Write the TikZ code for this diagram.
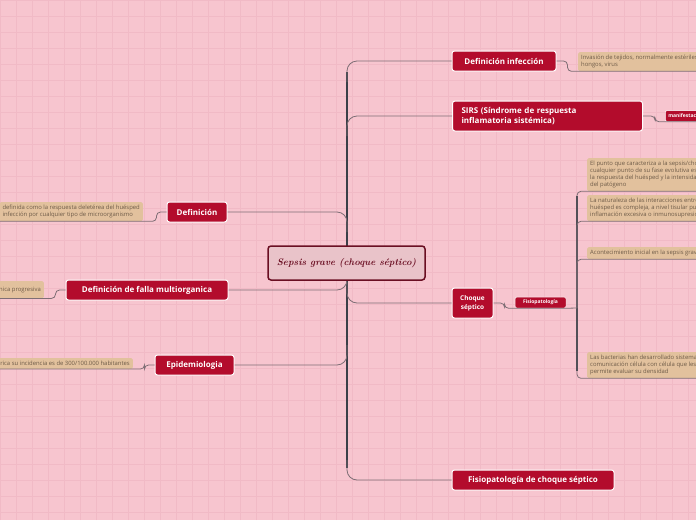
\documentclass[tikz,border=0pt]{standalone}
\usepackage{fontspec}
\setsansfont{Open Sans}
\usetikzlibrary{positioning}
\definecolor{bgpink}{HTML}{F7C5CF}
\definecolor{gridpink}{HTML}{F1BAC6}
\definecolor{crimson}{HTML}{B30C2C}
\definecolor{centrefill}{HTML}{E9C3C9}
\definecolor{maroon}{HTML}{6A0E22}
\definecolor{notetan}{HTML}{E2C19D}
\definecolor{notetext}{HTML}{6E5B48}
\definecolor{branchgray}{HTML}{7E6E75}
\definecolor{trunkgray}{HTML}{3B3F48}
\begin{document}
\begin{tikzpicture}[x=1pt, y=-1pt,
    topic/.style={fill=crimson, draw=white, line width=1pt, rounded corners=2.5pt, text=white,
        font=\sffamily\bfseries\fontsize{8}{9.5}\selectfont, inner xsep=6pt, inner ysep=0pt,
        minimum height=20pt, align=left},
    tag/.style={fill=crimson, draw=white, line width=0.5pt, rounded corners=1.5pt, text=white,
        font=\sffamily\bfseries\fontsize{5}{6}\selectfont, inner xsep=3pt, inner ysep=0pt,
        minimum height=11pt},
    centre/.style={fill=centrefill, draw=maroon, line width=1.5pt, rounded corners=3pt, text=maroon,
        font=\rmfamily\bfseries\itshape\fontsize{9.5}{11}\selectfont,
        minimum width=157pt, minimum height=34pt},
    note/.style={fill=notetan, rounded corners=1.5pt, text=notetext,
        font=\sffamily\fontsize{5.9}{7}\selectfont, align=left, inner sep=3pt},
    branch/.style={branchgray, line width=0.8pt, rounded corners=10pt},
    noteline/.style={branchgray, line width=0.8pt, rounded corners=4pt},
    trunk/.style={trunkgray, line width=2.4pt},
    subtrunk/.style={trunkgray, line width=1.4pt}]
    \useasboundingbox (0,0) rectangle (696,520);
    \fill[bgpink] (0,0) rectangle (696,520);
    \draw[gridpink, line width=0.4pt, step=16pt] (0,520) grid (696,0);

    \draw[trunk] (347,72) -- (347,468);
    \coordinate (fork) at (577,308);
    \draw[subtrunk] (577,196) -- (577,371);

    \node[topic, minimum width=104pt] (infeccion) at (504,61) {Definición infección};
    \node[topic, anchor=west, text width=172pt, inner xsep=9pt, minimum height=30pt] (sirs) at (452,116) {SIRS (Síndrome de respuesta\\inflamatoria sistémica)};
    \node[topic, minimum width=41pt, minimum height=30pt, align=center, inner xsep=2pt,
        font=\sffamily\bfseries\fontsize{6.5}{9}\selectfont] (choque) at (472.5,303) {Choque\\séptico};
    \node[topic, minimum width=162pt] (fcs) at (533,480) {Fisiopatología de choque séptico};

    \node[topic, minimum width=60pt] (def) at (197,212) {Definición};
    \node[topic, minimum width=162pt] (falla) at (147,290) {Definición de falla multiorganica};
    \node[topic, minimum width=79pt] (epi) at (194.5,365) {Epidemiologia};

    \draw[branch] (347,82) |- (infeccion.west);
    \draw[branch] (347,136) |- (sirs.west);
    \draw[branch] (347,282) |- (choque.west);
    \draw[branch] (347,460) |- (fcs.west);
    \draw[branch] (347,232) |- (def.east);
    \draw[branch] (347,270) |- (falla.east);
    \draw[branch] (347,345) |- (epi.east);

    \node[centre] (sepsis) at (346.5,263) {Sepsis grave (choque séptico)};

    \node[tag, anchor=west] (manif) at (665,116) {manifestaciones};
    \node[tag, minimum width=51pt] (fisio) at (540.5,302.5) {Fisiopatología};

    \node[note, anchor=north west] (infnote) at (578,52) {Invasión de tejidos, normalmente estériles\\hongos, virus};
    \node[note, anchor=north west] (punto) at (587,158) {El punto que caracteriza a la sepsis/choque\\cualquier punto de su fase evolutiva es\\la respuesta del huésped y la intensidad\\del patógeno};
    \node[note, anchor=north west] (naturaleza) at (587,195) {La naturaleza de las interacciones entre\\huésped es compleja, a nivel tisular puede\\inflamación excesiva o inmunosupresión};
    \node[note, anchor=north west] (inicial) at (587,247) {Acontecimiento inicial en la sepsis grave};
    \node[note, anchor=north west] (bacterias) at (587,352) {Las bacterias han desarrollado sistemas\\comunicación célula con célula que les\\permite evaluar su densidad};

    \node[note, anchor=north east] (defnote) at (143,202) {definida como la respuesta deletérea del huésped\\infección por cualquier tipo de microorganismo};
    \node[note, anchor=north east, minimum height=17pt] (fallanote) at (44,281) {Disfunción orgánica progresiva};
    \node[note, anchor=north east] (epinote) at (133,358) {En Norteamérica su incidencia es de 300/100.000 habitantes};

    \draw[noteline] (infeccion.east) -- ++(11,0) |- (infnote.south west) -- (infnote.south east);
    \draw[noteline] (sirs.east) -- ++(12,0) |- (manif.south west) -- (manif.south east);
    \draw[noteline] (choque.east) -- ++(11,0) |- (fisio.south west) -- (fisio.south east) -- (fork);
    \draw[noteline] (fork) |- (punto.south west) -- (punto.south east);
    \draw[noteline] (fork) |- (naturaleza.south west) -- (naturaleza.south east);
    \draw[noteline] (fork) |- (inicial.south west) -- (inicial.south east);
    \draw[noteline] (fork) |- (bacterias.south west) -- (bacterias.south east);

    \draw[noteline] (def.west) -- ++(-10,0) |- (defnote.south east) -- (defnote.south west);
    \draw[noteline] (falla.west) -- ++(-10,0) |- (fallanote.south east) -- (fallanote.south west);
    \draw[noteline] (epi.west) -- ++(-10,0) |- (epinote.south east) -- (epinote.south west);
\end{tikzpicture}
\end{document}
